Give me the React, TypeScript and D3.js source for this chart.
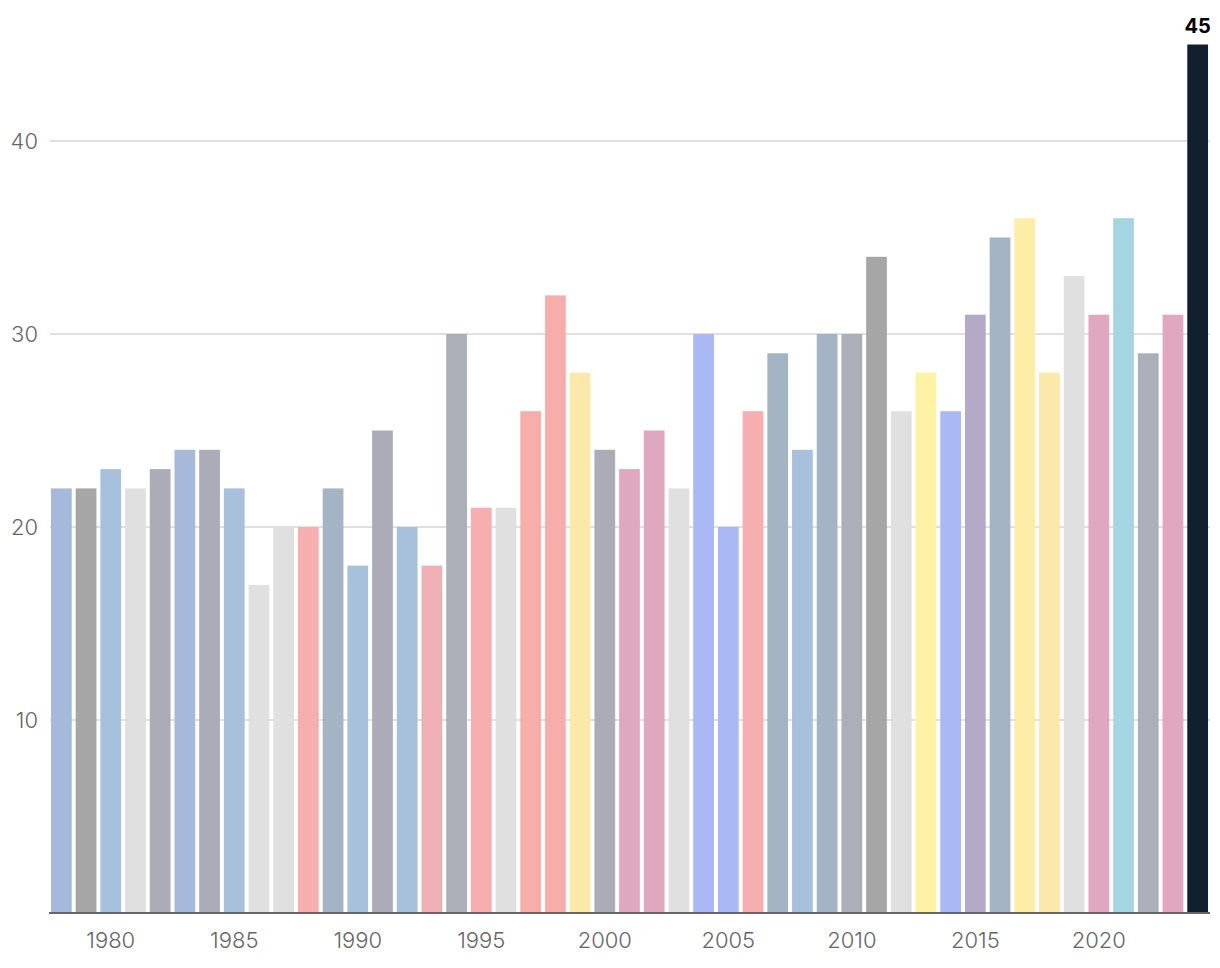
import React from "react";
import * as d3 from "d3";

const years: number[] = [
  1978, 1979, 1980, 1981, 1982, 1983, 1984, 1985, 1986, 1987, 1988, 1989, 1990, 1991, 1992, 1993,
  1994, 1995, 1996, 1997, 1998, 1999, 2000, 2001, 2002, 2003, 2004, 2005, 2006, 2007, 2008, 2009,
  2010, 2011, 2012, 2013, 2014, 2015, 2016, 2017, 2018, 2019, 2020, 2021, 2022, 2023, 2024,
];

const values: number[] = [
  22, 22, 23, 22, 23, 24, 24, 22, 17, 20, 20, 22, 18, 25, 20, 18,
  30, 21, 21, 26, 32, 28, 24, 23, 25, 22, 30, 20, 26, 29, 24, 30,
  30, 34, 26, 28, 26, 31, 35, 36, 28, 33, 31, 36, 29, 31, 45,
];

const colors: string[] = [
  "#a7b9db", "#a6a6a6", "#a7c0db", "#e0e0e0", "#abacb8", "#a7b9db", "#abacb8", "#a7c0db",
  "#e0e0e0", "#e0e0e0", "#f7aeb0", "#a5b4c5", "#a7c0db", "#abacb8", "#a7c0db", "#eeb0b5",
  "#abafb8", "#f7aeb0", "#e0e0e0", "#f7aeaa", "#f7aeaa", "#fde8ab", "#abacb8", "#e0a8bf",
  "#e0a8bf", "#e0e0e0", "#aab8f5", "#aab8f5", "#f7aeb0", "#a5b4c5", "#a7c0db", "#a5b4c5",
  "#abafb8", "#a6a6a6", "#e0e0e0", "#fef2a5", "#aab8f5", "#b4aac7", "#a5b4c5", "#feeda6",
  "#fde8ab", "#e0e0e0", "#e0a8bf", "#a6d5e2", "#abafb8", "#e0a8bf", "#11202e",
];

const yTicks: number[] = [10, 20, 30, 40];
const xTickYears: number[] = [1980, 1985, 1990, 1995, 2000, 2005, 2010, 2015, 2020];
const highlightYear = 2024;

const W = 1220;
const H = 968;

export default function App() {
  const x = d3
    .scaleBand<number>()
    .domain(years)
    .range([49, 1210])
    .paddingInner(0.16)
    .paddingOuter(0.08);
  const y = d3.scaleLinear().domain([0, 45]).range([913, 44.5]);
  const font = "Inter, 'Noto Sans', sans-serif";
  const hlIndex = years.indexOf(highlightYear);

  return (
    <svg
      width={W}
      height={H}
      style={{ position: "absolute", left: 0, top: 0, display: "block", background: "#fff" }}
    >
      {yTicks.map((t) => (
        <g key={t}>
          <line x1={50} x2={1210} y1={y(t)} y2={y(t)} stroke="#d6d6d6" strokeWidth={1.5} />
          <text
            x={38}
            y={y(t)}
            textAnchor="end"
            dominantBaseline="central"
            fontFamily={font}
            fontWeight={300}
            fontSize={22}
            fill="#666"
          >
            {t}
          </text>
        </g>
      ))}
      {years.map((yr, i) => (
        <rect
          key={yr}
          x={x(yr)!}
          y={y(values[i])}
          width={x.bandwidth()}
          height={y(0) - y(values[i])}
          fill={colors[i]}
        />
      ))}
      <line x1={49} x2={1210} y1={y(0)} y2={y(0)} stroke="#666" strokeWidth={2} />
      {xTickYears.map((yr) => (
        <text
          key={yr}
          x={x(yr)! + x.bandwidth() / 2}
          y={940}
          textAnchor="middle"
          dominantBaseline="central"
          fontFamily={font}
          fontWeight={300}
          fontSize={22}
          fill="#666"
        >
          {yr}
        </text>
      ))}
      <text
        x={x(highlightYear)! + x.bandwidth() / 2}
        y={y(values[hlIndex]) - 12}
        textAnchor="middle"
        fontFamily={font}
        fontWeight={700}
        fontSize={20}
        fill="#000"
      >
        {values[hlIndex]}
      </text>
    </svg>
  );
}
